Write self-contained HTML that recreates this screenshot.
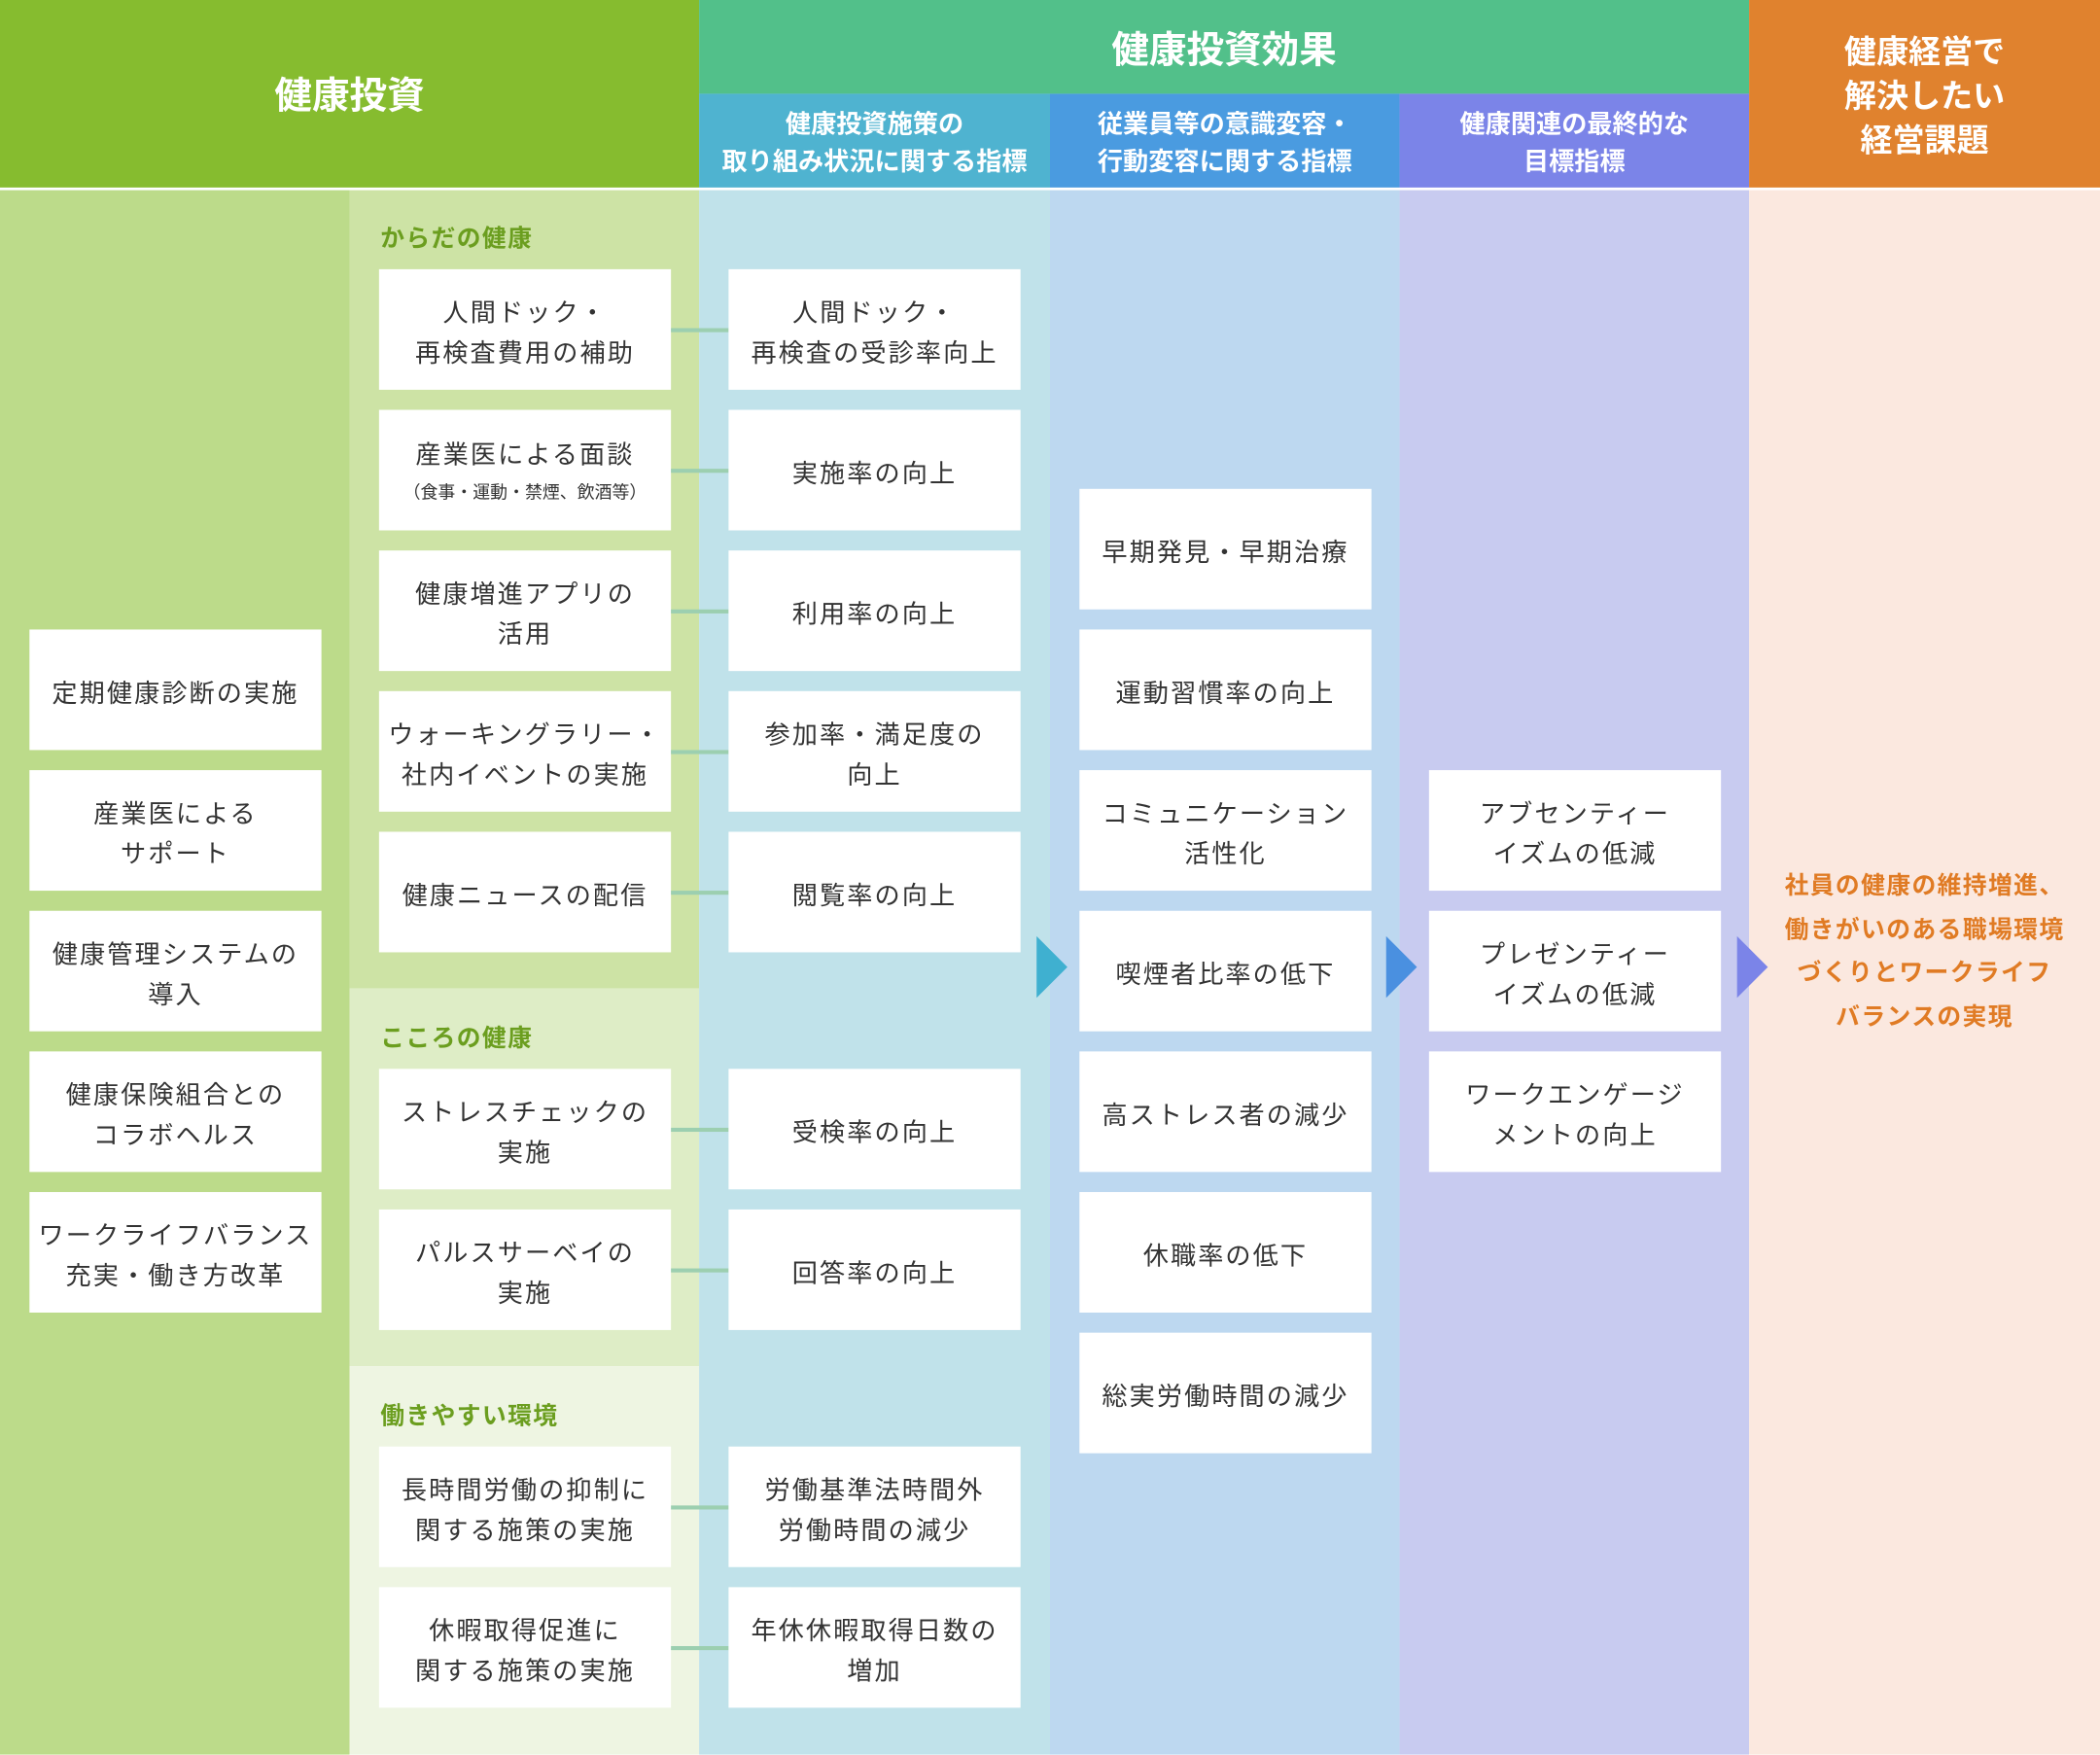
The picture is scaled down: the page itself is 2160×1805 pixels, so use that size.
<!DOCTYPE html>
<html><head><meta charset="utf-8"><style>
html,body{margin:0;padding:0;width:2160px;height:1805px;overflow:hidden;background:#fff}
#w{position:absolute;left:0;top:0;width:1568px;height:1310px;transform:scale(1.37755);transform-origin:0 0;font-family:"Liberation Sans","Noto Sans CJK JP",sans-serif}
.a{position:absolute}
.b{position:absolute;background:#fff;width:218px;height:90px;box-sizing:border-box;padding-top:7px;display:flex;align-items:center;justify-content:center;text-align:center;font-size:19px;line-height:30px;color:#333;letter-spacing:1.5px}
.h{position:absolute;color:#fff;font-weight:bold;text-align:center;display:flex;align-items:center;justify-content:center}
.l{position:absolute;height:3px;background:#9ccfb0;left:501px;width:43px}
.s{position:absolute;left:284px;font-size:18px;font-weight:bold;color:#6b9e1f;letter-spacing:1px}
</style></head><body><div id="w">
<div class="a" style="left:0;top:142px;width:261px;height:1168px;background:#bcdb8a"></div>
<div class="a" style="left:261px;top:142px;width:261px;height:596px;background:#cde3a5"></div>
<div class="a" style="left:261px;top:738px;width:261px;height:282px;background:#deedc6"></div>
<div class="a" style="left:261px;top:1020px;width:261px;height:290px;background:#eef5e2"></div>
<div class="a" style="left:522px;top:142px;width:262px;height:1168px;background:#c0e2ea"></div>
<div class="a" style="left:784px;top:142px;width:261px;height:1168px;background:#bdd8f0"></div>
<div class="a" style="left:1045px;top:142px;width:261px;height:1168px;background:#c8cbf0"></div>
<div class="a" style="left:1306px;top:142px;width:262px;height:1168px;background:#fbe8df"></div>

<div class="h" style="left:0;top:0;width:522px;height:140px;background:#86bc2f;font-size:28px">健康投資</div>
<div class="h" style="left:522px;top:0;width:784px;height:70px;background:#52c08a;font-size:28px;padding-top:2px;box-sizing:border-box">健康投資効果</div>
<div class="h" style="left:522px;top:70px;width:262px;height:70px;background:#4fb3d0;font-size:19px;line-height:28px;padding-top:6px;box-sizing:border-box">健康投資施策の<br>取り組み状況に関する指標</div>
<div class="h" style="left:784px;top:70px;width:261px;height:70px;background:#4a9be0;font-size:19px;line-height:28px;padding-top:6px;box-sizing:border-box">従業員等の意識変容・<br>行動変容に関する指標</div>
<div class="h" style="left:1045px;top:70px;width:261px;height:70px;background:#7b84e8;font-size:19px;line-height:28px;padding-top:6px;box-sizing:border-box">健康関連の最終的な<br>目標指標</div>
<div class="h" style="left:1306px;top:0;width:262px;height:140px;background:#e0822e;font-size:24px;line-height:33px;padding-top:4px;box-sizing:border-box">健康経営で<br>解決したい<br>経営課題</div>

<div class="s" style="top:164px">からだの健康</div>
<div class="s" style="top:761px">こころの健康</div>
<div class="s" style="top:1043px">働きやすい環境</div>

<div class="b" style="left:22px;top:470px">定期健康診断の実施</div>
<div class="b" style="left:22px;top:575px">産業医による<br>サポート</div>
<div class="b" style="left:22px;top:680px">健康管理システムの<br>導入</div>
<div class="b" style="left:22px;top:785px">健康保険組合との<br>コラボヘルス</div>
<div class="b" style="left:22px;top:890px">ワークライフバランス<br>充実・働き方改革</div>

<div class="b" style="left:283px;top:201px">人間ドック・<br>再検査費用の補助</div>
<div class="b" style="left:283px;top:306px;line-height:26px"><div>産業医による面談<br><span style="font-size:13px;letter-spacing:0">（食事・運動・禁煙、飲酒等）</span></div></div>
<div class="b" style="left:283px;top:411px">健康増進アプリの<br>活用</div>
<div class="b" style="left:283px;top:516px">ウォーキングラリー・<br>社内イベントの実施</div>
<div class="b" style="left:283px;top:621px">健康ニュースの配信</div>
<div class="b" style="left:283px;top:798px">ストレスチェックの<br>実施</div>
<div class="b" style="left:283px;top:903px">パルスサーベイの<br>実施</div>
<div class="b" style="left:283px;top:1080px">長時間労働の抑制に<br>関する施策の実施</div>
<div class="b" style="left:283px;top:1185px">休暇取得促進に<br>関する施策の実施</div>

<div class="l" style="top:245px"></div><div class="l" style="top:350px"></div><div class="l" style="top:455px"></div><div class="l" style="top:560px"></div><div class="l" style="top:665px"></div><div class="l" style="top:842px"></div><div class="l" style="top:947px"></div><div class="l" style="top:1124px"></div><div class="l" style="top:1229px"></div>

<div class="b" style="left:544px;top:201px">人間ドック・<br>再検査の受診率向上</div>
<div class="b" style="left:544px;top:306px">実施率の向上</div>
<div class="b" style="left:544px;top:411px">利用率の向上</div>
<div class="b" style="left:544px;top:516px">参加率・満足度の<br>向上</div>
<div class="b" style="left:544px;top:621px">閲覧率の向上</div>
<div class="b" style="left:544px;top:798px">受検率の向上</div>
<div class="b" style="left:544px;top:903px">回答率の向上</div>
<div class="b" style="left:544px;top:1080px">労働基準法時間外<br>労働時間の減少</div>
<div class="b" style="left:544px;top:1185px">年休休暇取得日数の<br>増加</div>

<div class="b" style="left:806px;top:365px">早期発見・早期治療</div>
<div class="b" style="left:806px;top:470px">運動習慣率の向上</div>
<div class="b" style="left:806px;top:575px">コミュニケーション<br>活性化</div>
<div class="b" style="left:806px;top:680px">喫煙者比率の低下</div>
<div class="b" style="left:806px;top:785px">高ストレス者の減少</div>
<div class="b" style="left:806px;top:890px">休職率の低下</div>
<div class="b" style="left:806px;top:995px">総実労働時間の減少</div>

<div class="b" style="left:1067px;top:575px">アブセンティー<br>イズムの低減</div>
<div class="b" style="left:1067px;top:680px">プレゼンティー<br>イズムの低減</div>
<div class="b" style="left:1067px;top:785px">ワークエンゲージ<br>メントの向上</div>

<svg class="a" style="left:0;top:0" width="1568" height="1310">
<polygon points="774,699 797,722 774,745" fill="#3fb0d0"/>
<polygon points="1035,699 1058,722 1035,745" fill="#4a90e0"/>
<polygon points="1297,699 1320,722 1297,745" fill="#7b84e8"/>
</svg>

<div class="a" style="left:1306px;top:645px;width:262px;text-align:center;font-size:18px;line-height:32.5px;font-weight:bold;color:#e07b24;letter-spacing:1px">社員の健康の維持増進、<br>働きがいのある職場環境<br>づくりとワークライフ<br>バランスの実現</div>
</div></body></html>
